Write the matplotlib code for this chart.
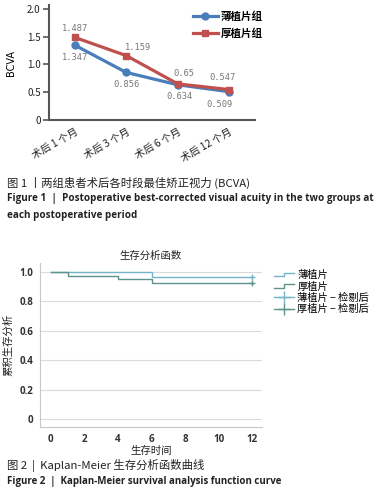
import matplotlib
matplotlib.use("Agg")
import matplotlib.pyplot as plt
from matplotlib.lines import Line2D
from matplotlib.legend_handler import HandlerBase

plt.rcParams['font.family'] = ['Noto Sans CJK SC', 'DejaVu Sans']

# ---------------- data ----------------
months = ['术后 1 个月', '术后 3 个月', '术后 6 个月', '术后 12 个月']
thin_bcva = [1.347, 0.856, 0.634, 0.509]
thick_bcva = [1.487, 1.159, 0.65, 0.547]
bcva_yticks = [0, 0.5, 1.0, 1.5, 2.0]
bcva_yticklabels = ['0', '0.5', '1.0', '1.5', '2.0']

thin_time = [0, 6, 12]
thin_surv = [1.0, 0.966, 0.966]
thick_time = [0, 1, 4, 6, 12]
thick_surv = [1.0, 0.974, 0.949, 0.923, 0.923]
km_xticks = [0, 2, 4, 6, 8, 10, 12]
km_yticks = [0, 0.2, 0.4, 0.6, 0.8, 1.0]
km_yticklabels = ['0', '0.2', '0.4', '0.6', '0.8', '1.0']

W, H = 382, 498
fig = plt.figure(figsize=(W / 100, H / 100), dpi=100)
fig.patch.set_facecolor('white')


def px_axes(left, top, right, bottom):
    return fig.add_axes([left / W, 1 - bottom / H, (right - left) / W, (bottom - top) / H])


def ftext(x, y, s, **kw):
    fig.text(x / W, 1 - y / H, s, **kw)


# ---------------- chart 1 ----------------
blue = '#4A7EBB'
red = '#C0504D'
ax1 = px_axes(49, 5, 255, 120)
xs = list(range(len(months)))
ax1.plot(xs, thin_bcva, color=blue, lw=2.3, marker='o', ms=5, label='薄植片组', zorder=3)
ax1.plot(xs, thick_bcva, color=red, lw=2.3, marker='s', ms=5, label='厚植片组', zorder=3)
ax1.set_xlim(-0.5, 3.5)
ax1.set_ylim(0, 2.07)
ax1.set_yticks(bcva_yticks)
ax1.set_yticklabels(bcva_yticklabels, fontsize=7, color='#222')
ax1.set_xticks(xs)
ax1.set_xticklabels(months, rotation=30, ha='right', rotation_mode='anchor', fontsize=7.4, color='#222')
for s in ['top', 'right']:
    ax1.spines[s].set_visible(False)
for s in ['left', 'bottom']:
    ax1.spines[s].set_color('#555')
    ax1.spines[s].set_linewidth(1.5)
ax1.tick_params(axis='y', length=4, width=1.2, color='#555', pad=2)
ax1.tick_params(axis='x', length=0, pad=5)
ax1.set_ylabel('BCVA', fontsize=7, labelpad=8, family=['DejaVu Sans'])

thick_off = [(0, 9), (12, 8), (6, 10), (-7, 12)]
thin_off = [(0, -12), (0, -12), (2, -12), (-10, -13)]
for i in xs:
    ax1.annotate(f'{thick_bcva[i]:g}', (i, thick_bcva[i]), xytext=thick_off[i],
                 textcoords='offset pixels', ha='center', va='center', fontsize=6.3,
                 color='#777', family=['DejaVu Sans Mono'])
    ax1.annotate(f'{thin_bcva[i]:g}', (i, thin_bcva[i]), xytext=thin_off[i],
                 textcoords='offset pixels', ha='center', va='center', fontsize=6.3,
                 color='#777', family=['DejaVu Sans Mono'])
leg1 = ax1.legend(loc='upper left', bbox_to_anchor=(138 / 206, 1.0), frameon=False,
                  fontsize=7.6, handlelength=2.3, handletextpad=0.3, labelspacing=0.6,
                  borderaxespad=0.2)
for t in leg1.get_texts():
    t.set_fontweight('bold')

# captions 1
ftext(7, 183, '图 1 丨两组患者术后各时段最佳矫正视力 (BCVA)', fontsize=8.2, va='center', color='#222')
ftext(7, 199, 'Figure 1  |  Postoperative best-corrected visual acuity in the two groups at',
      fontsize=7.15, va='center', fontweight='bold', family=['Open Sans'], color='#222')
ftext(7, 215, 'each postoperative period', fontsize=7.15, va='center', fontweight='bold',
      family=['Open Sans'], color='#222')

# ---------------- chart 2 ----------------
c_thin = '#74B4C6'
c_thick = '#5E928C'
ax2 = px_axes(40, 263, 262, 427)
ax2.step(thin_time, thin_surv, where='post', color=c_thin, lw=1.0)
ax2.step(thick_time, thick_surv, where='post', color=c_thick, lw=1.0)
ax2.plot([thin_time[-1]], [thin_surv[-1]], ls='none', marker='+', ms=5, mew=1, color=c_thin)
ax2.plot([thick_time[-1]], [thick_surv[-1]], ls='none', marker='+', ms=5, mew=1, color=c_thick)
ax2.set_xlim(-0.64, 12.58)
ax2.set_ylim(-0.054, 1.059)
ax2.set_xticks(km_xticks)
ax2.set_xticklabels([str(v) for v in km_xticks], fontsize=7, color='#333', fontweight='bold',
                    family=['Open Sans'])
ax2.set_yticks(km_yticks)
ax2.set_yticklabels(km_yticklabels, fontsize=7, color='#333', fontweight='bold', family=['Open Sans'])
ax2.tick_params(length=0, pad=5)
ax2.grid(axis='y', color='#DADADA', lw=0.8)
ax2.set_axisbelow(True)
for s in ['top', 'right']:
    ax2.spines[s].set_visible(False)
for s in ['left', 'bottom']:
    ax2.spines[s].set_color('#C8C8C8')
    ax2.spines[s].set_linewidth(0.8)
ax2.set_title('生存分析函数', fontsize=7.5, pad=3, color='#222')
ax2.set_xlabel('生存时间', fontsize=7.5, labelpad=1, color='#222')
ax2.set_ylabel('累积生存分析', fontsize=7.5, labelpad=4, color='#222')


class StepHandler(HandlerBase):
    def create_artists(self, legend, orig_handle, xdescent, ydescent, width, height, fontsize, trans):
        x0, y0 = -xdescent, -ydescent
        xd = [x0, x0 + width * 0.5, x0 + width * 0.5, x0 + width]
        yd = [y0 + height * 0.25, y0 + height * 0.25, y0 + height * 0.75, y0 + height * 0.75]
        ln = Line2D(xd, yd, color=orig_handle.get_color(), lw=1.0, transform=trans)
        return [ln]


h_thin = Line2D([], [], color=c_thin)
h_thick = Line2D([], [], color=c_thick)
h_thin_c = Line2D([], [], color=c_thin, marker='+', ms=8, mew=1, lw=1.0)
h_thick_c = Line2D([], [], color=c_thick, marker='+', ms=8, mew=1, lw=1.0)
leg2 = ax2.legend([h_thin, h_thick, h_thin_c, h_thick_c],
                  ['薄植片', '厚植片', '薄植片 − 检剔后', '厚植片 − 检剔后'],
                  handler_map={h_thin: StepHandler(), h_thick: StepHandler()},
                  loc='upper left', bbox_to_anchor=(1.02, 1.0), frameon=False,
                  fontsize=7.4, handlelength=2.0, handletextpad=0.3, labelspacing=0.12,
                  borderaxespad=0.3)

# captions 2
ftext(7, 465, '图 2  |  Kaplan-Meier 生存分析函数曲线', fontsize=8.2, va='center', color='#222')
ftext(7, 481, 'Figure 2  |  Kaplan-Meier survival analysis function curve', fontsize=7.05,
      va='center', fontweight='bold', family=['Open Sans'], color='#222')

fig.savefig('out.png', dpi=100)
